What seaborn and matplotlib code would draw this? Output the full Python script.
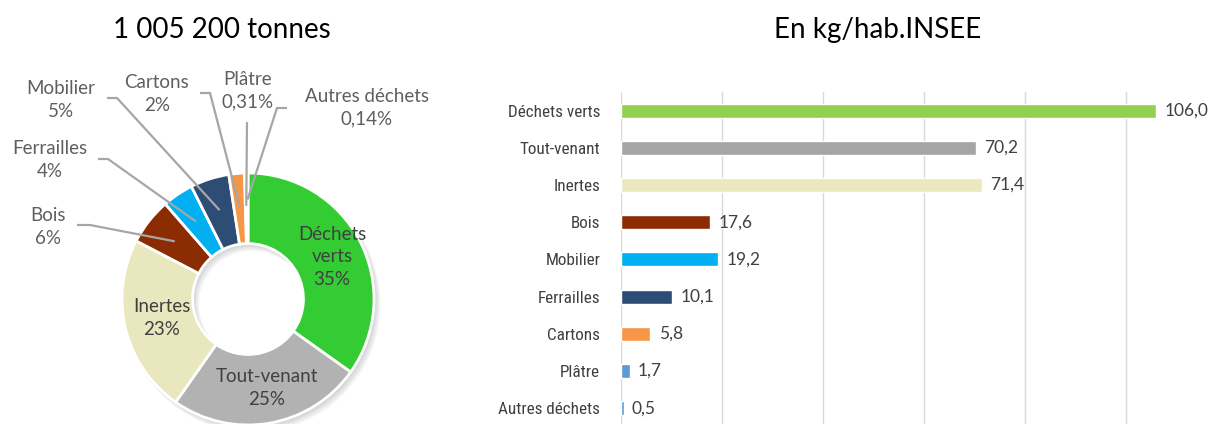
import numpy as np
import matplotlib
matplotlib.use("Agg")
import matplotlib.pyplot as plt
from matplotlib.patches import Wedge
from matplotlib import font_manager
import seaborn as sns
import pandas as pd

# ---------------- data ----------------
pie_labels = ["Déchets verts", "Tout-venant", "Inertes", "Bois", "Ferrailles",
              "Mobilier", "Cartons", "Plâtre", "Autres déchets"]
pie_pct = [35, 25, 23, 6, 4, 5, 2, 0.31, 0.14]
pie_pct_txt = ["35%", "25%", "23%", "6%", "4%", "5%", "2%", "0,31%", "0,14%"]
pie_colors = ["#33CC33", "#B2B2B2", "#E9E7BE", "#8B2C02", "#00B0F0",
              "#2E4D74", "#F79646", "#5B9BD5", "#A5A5A5"]

bar_cats = ["Déchets verts", "Tout-venant", "Inertes", "Bois", "Mobilier",
            "Ferrailles", "Cartons", "Plâtre", "Autres déchets"]
bar_vals = [106.0, 70.2, 71.4, 17.6, 19.2, 10.1, 5.8, 1.7, 0.5]
bar_colors = ["#92D050", "#A5A5A5", "#EBE8BF", "#8B2C02", "#00B0F0",
              "#2E4D74", "#F79646", "#5B9BD5", "#5B9BD5"]

title_left = "1 005 200 tonnes"
title_right = "En kg/hab.INSEE"

# ---------------- style ----------------
sns.set_theme(style="white")
plt.rcParams["font.family"] = ["Lato", "DejaVu Sans"]

available = {f.name for f in font_manager.fontManager.ttflist}
narrow = None
for cand in ["Roboto Condensed", "Liberation Sans Narrow", "Open Sans Condensed",
             "DejaVu Sans Condensed"]:
    if cand in available:
        narrow = cand
        break

W, H = 1212, 424
fig = plt.figure(figsize=(W / 100, H / 100), dpi=100)

# ---------------- donut ----------------
CX, CY, R = 248, 299, 126          # centre and radius in pixels
PW = 480
ax_pie = fig.add_axes([0, 0, PW / W, 1])


def P(px, py):
    return ((px - CX) / R, (CY - py) / R)


# soft drop shadow
for k in range(5):
    off = 0.012 + 0.006 * k
    sh = Wedge((off, -off * 1.2), 1.0 + 0.004 * k, 0, 360, width=0.56 + 0.008 * k,
               facecolor="black", edgecolor="none", alpha=0.035, zorder=0)
    ax_pie.add_patch(sh)

wedges, _ = ax_pie.pie(pie_pct, colors=pie_colors, startangle=90, counterclock=False,
                       radius=1.0,
                       wedgeprops=dict(width=0.56, edgecolor="white", linewidth=2,
                                       zorder=2))
ax_pie.set_aspect("auto")
ax_pie.set_xlim((0 - CX) / R, (PW - CX) / R)
ax_pie.set_ylim((CY - H) / R, CY / R)
ax_pie.axis("off")

txt_col = "#5F5F5F"
inner_col = "#404040"
fs_pie = 13.5

# inner labels
inner_pos = {"Déchets verts": (332, 257), "Tout-venant": (267, 388), "Inertes": (162, 318)}
inner_txt = {"Déchets verts": "Déchets\nverts", "Tout-venant": "Tout-venant", "Inertes": "Inertes"}
# outside labels: text centre, elbow start, elbow end
outer_layout = {
    "Bois": ((48, 227), (77, 225), (90, 225)),
    "Ferrailles": ((50, 160), (98, 159), (108, 159)),
    "Mobilier": ((61, 100), (107, 98), (117, 98)),
    "Cartons": ((157, 94), (200, 93), (210, 93)),
    "Plâtre": ((248, 91), (247, 122), (247, 122)),
    "Autres déchets": ((367, 108), (287, 108), (277, 108)),
}
end_r = {"Autres déchets": 0.79}

for w, lab, pt in zip(wedges, pie_labels, pie_pct_txt):
    if lab in inner_pos:
        x, y = P(*inner_pos[lab])
        ax_pie.text(x, y, f"{inner_txt[lab]}\n{pt}", ha="center", va="center",
                    fontsize=fs_pie, color=inner_col, linespacing=1.4, zorder=6)
    else:
        (tx, ty), s0, s1 = outer_layout[lab]
        x, y = P(tx, ty)
        ax_pie.text(x, y, f"{lab}\n{pt}", ha="center", va="center",
                    fontsize=fs_pie, color=txt_col, linespacing=1.4, zorder=6)
        mid = np.deg2rad((w.theta1 + w.theta2) / 2)
        r = end_r.get(lab, 0.74)
        ex, ey = r * np.cos(mid), r * np.sin(mid)
        a = P(*s0)
        b = P(*s1)
        ax_pie.plot([a[0], b[0], ex], [a[1], b[1], ey], color="#A6A6A6", lw=1.6,
                    solid_capstyle="butt", zorder=5)

fig.text(222 / W, 1 - 30 / H, title_left, ha="center", va="center",
         fontsize=20, color="black")

# ---------------- bars ----------------
AX0 = 621
TOP = 92
SP = 37.2
ax_bar = fig.add_axes([AX0 / W, 0, (W - AX0) / W, (H - TOP) / H])
df = pd.DataFrame({"cat": bar_cats, "val": bar_vals})
sns.barplot(data=df, x="val", y="cat", hue="cat", palette=bar_colors, legend=False,
            orient="h", width=0.38, ax=ax_bar, saturation=1)
ax_bar.set_ylim(-0.5 + (H - TOP) / SP, -0.5)
ax_bar.set_xlim(0, (W - AX0) / 5.05)
ax_bar.set_xticks(np.arange(0, 120, 20))
ax_bar.tick_params(axis="x", length=0, labelbottom=False)
ax_bar.tick_params(axis="y", length=0, pad=15)
ax_bar.grid(axis="x", color="#D9D9D9", lw=1)
ax_bar.set_axisbelow(True)
for s in ax_bar.spines.values():
    s.set_visible(False)
ax_bar.set_xlabel("")
ax_bar.set_ylabel("")
for lbl in ax_bar.get_yticklabels():
    if narrow:
        lbl.set_fontfamily([narrow, "DejaVu Sans"])
        lbl.set_fontsize(12.3)
    else:
        lbl.set_fontsize(10)
    lbl.set_color("#404040")

for cont, v in zip(ax_bar.containers, bar_vals):
    ax_bar.bar_label(cont, labels=[f"{v:.1f}".replace(".", ",")], padding=6,
                     fontsize=12.5, color="#404040")

fig.text(878 / W, 1 - 30 / H, title_right, ha="center", va="center",
         fontsize=20, color="black")

fig.savefig("out.png", dpi=100)
